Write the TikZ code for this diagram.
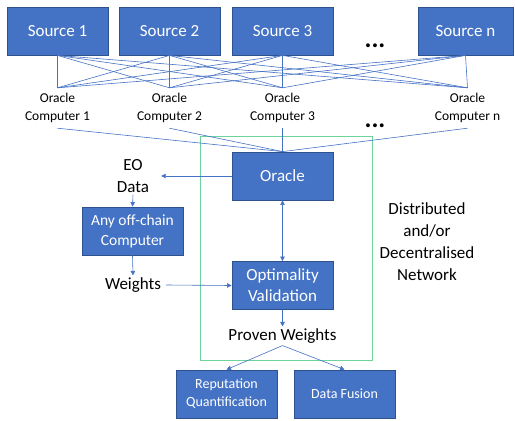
\documentclass[tikz,border=0pt]{standalone}
\usepackage{fontspec}
\setmainfont{Carlito}
\usepackage{tikz}
\usetikzlibrary{positioning, arrows.meta}
\definecolor{netBlue}{HTML}{4472C4}
\definecolor{netBorder}{HTML}{2F528F}
\definecolor{netGreen}{HTML}{6CD49A}

\begin{document}
\begin{tikzpicture}[
  x=1pt, y=-1pt,
  every node/.style={text=black},
  bluebox/.style={
    rectangle, draw=netBorder, line width=0.8pt, fill=netBlue,
    text=white, minimum width=101pt, minimum height=48pt,
    inner sep=0pt, align=center, font=\fontsize{17}{21}\selectfont
  },
  smallbox/.style={bluebox, font=\fontsize{14}{18}\selectfont},
  computer/.style={
    align=center, minimum height=40pt, inner sep=0pt,
    font=\fontsize{13.5}{18}\selectfont
  },
  plain/.style={align=center, inner sep=2pt, font=\fontsize{17}{22}\selectfont},
  link/.style={netBlue, line width=0.6pt},
  arr/.style={link, -{Triangle[length=4.5pt, width=4.5pt]}},
  dots/.style={font=\fontsize{26}{26}\selectfont\bfseries},
]
\useasboundingbox (0,0) rectangle (515,421);

% Sources
\node[bluebox] (s1) at (57.5,31) {Source 1};
\node[bluebox] (s2) at (169.5,31) {Source 2};
\node[bluebox] (s3) at (282.5,31) {Source 3};
\node[bluebox, minimum width=95pt] (sn) at (465.5,31) {Source n};
\node[dots] (sdots) at (375,46) {...};

% Oracle computers
\node[computer] (c1) at (57.5,108) {Oracle\\Computer 1};
\node[computer] (c2) at (169.5,108) {Oracle\\Computer 2};
\node[computer] (c3) at (282.5,108) {Oracle\\Computer 3};
\node[computer] (cn) at (467.5,108) {Oracle\\Computer n};
\node[dots] (cdots) at (375,126) {...};

% every source feeds every oracle computer
\foreach \s in {s1,s2,s3,sn}
  \foreach \c in {c1,c2,c3,cn}
    \draw[link] (\s.south) -- (\c.north);

% Network boundary
\draw[netGreen, line width=0.8pt] (200,136) rectangle (372,360);
\node[plain] (net) at (427,242) {Distributed\\and/or\\Decentralised\\Network};

% Oracle and validation
\node[bluebox] (oracle) at (282.5,176) {Oracle};
\node[bluebox] (optim) at (282.5,285.5) {Optimality\\Validation};
\node[plain] (proven) at (282.5,336) {Proven Weights};

\foreach \c in {c1,c2,c3,cn}
  \draw[link] (\c.south) -- (oracle.north);

% Off-chain side
\node[plain, inner xsep=12pt] (eo) at (133,176) {EO\\Data};
\node[bluebox, font=\fontsize{15.5}{20}\selectfont] (offchain) at (132.5,231) {Any off-chain\\Computer};
\node[plain, inner xsep=5pt] (weights) at (133,285) {Weights};

\draw[arr] (oracle.west) -- (eo.east);
\draw[arr] (eo.south) -- (offchain.north);
\draw[arr] (offchain.south) -- (weights.north);
\draw[arr] (weights.east) -- (optim.west);
\draw[link, {Triangle[length=4.5pt, width=4.5pt]}-{Triangle[length=4.5pt, width=4.5pt]}] (oracle.south) -- (optim.north);
\draw[arr] (optim.south) -- (proven.north);

% Outputs
\node[smallbox] (reput) at (226.5,394) {Reputation\\Quantification};
\node[smallbox] (fusion) at (344.5,394) {Data Fusion};
\draw[arr] (proven.south) -- (reput.north);
\draw[arr] (proven.south) -- (fusion.north);

\end{tikzpicture}
\end{document}
